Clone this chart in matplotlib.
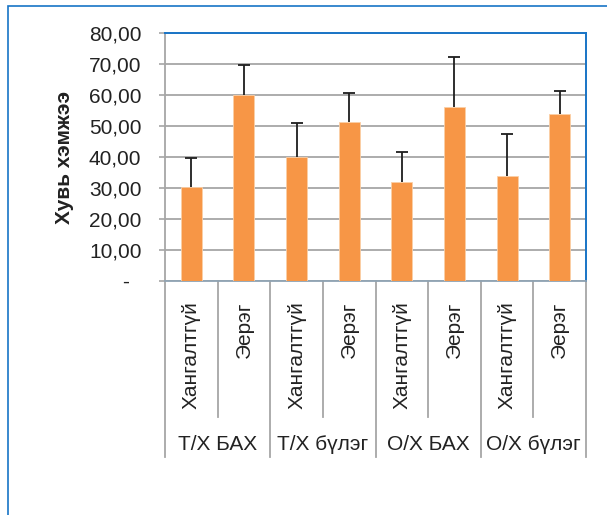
import matplotlib
matplotlib.use("Agg")
import matplotlib.pyplot as plt
from matplotlib.patches import Rectangle
import numpy as np

# Data
groups = ["Т/Х БАХ", "Т/Х бүлэг", "О/Х БАХ", "О/Х бүлэг"]
subcats = ["Хангалтгүй", "Эерэг"]
means = [30.2, 59.9, 40.1, 51.3, 32.0, 56.2, 34.0, 53.9]
errors = [9.6, 9.7, 11.0, 9.4, 9.5, 15.9, 13.4, 7.3]
yticks = [0, 10, 20, 30, 40, 50, 60, 70, 80]
ytick_labels = ["-  ", "10,00", "20,00", "30,00", "40,00", "50,00", "60,00", "70,00", "80,00"]
ylabel = "Хувь хэмжээ"

W, H = 607, 515
DPI = 100
plt.rcParams["font.family"] = ["Liberation Sans", "DejaVu Sans"]

fig = plt.figure(figsize=(W / DPI, H / DPI), dpi=DPI)
fig.patch.set_facecolor("white")

# outer chart border
fig.patches.append(Rectangle((8 / W, -0.2), 1.2, (H - 5.5) / H + 0.2,
                             transform=fig.transFigure, fill=False,
                             edgecolor="#1874C6", linewidth=1.2))

left, right, top, bottom = 165, 586, 33, 281
ax = fig.add_axes([left / W, (H - bottom) / H, (right - left) / W, (bottom - top) / H])

blue = "#1874C6"
grid_gray = "#A6A6A6"
text_col = "#222222"

x = np.arange(len(means))
m = np.array(means)
e = np.array(errors)
ax.bar(x, m, width=0.4, color="#F79646", edgecolor="#FBCFA6", linewidth=0.6, zorder=3)

# upper error bars only (stem + cap)
cap_half = 0.115
ax.vlines(x, m, m + e, color="#1E1E1E", linewidth=1.3, zorder=4)
ax.hlines(m + e, x - cap_half, x + cap_half, color="#1E1E1E", linewidth=1.3, zorder=4)

ax.set_xlim(-0.5, len(means) - 0.5)
ax.set_ylim(0, 80)
ax.set_yticks(yticks)
ax.set_yticklabels(ytick_labels, fontsize=15, color=text_col)
ax.tick_params(axis="y", length=4, width=1.2, color=grid_gray, pad=13)
ax.set_xticks([])
ax.yaxis.grid(True, color=grid_gray, linewidth=1.3, zorder=0)
ax.set_axisbelow(True)

ax.spines["left"].set_color(grid_gray)
ax.spines["left"].set_linewidth(1.3)
ax.spines["bottom"].set_color("#8FA3B3")
ax.spines["bottom"].set_linewidth(1.3)
for s in ("top", "right"):
    ax.spines[s].set_color(blue)
    ax.spines[s].set_linewidth(1.4)

ax.set_ylabel(ylabel, fontsize=15, fontweight="bold", color=text_col)
ax.yaxis.set_label_coords((74 - left) / (right - left), 0.5)

# two-level category axis
ah = bottom - top
trans = ax.get_xaxis_transform()
inner_end = -(417 - bottom) / ah
outer_end = -(457 - bottom) / ah
for b in np.arange(-0.5, len(means), 1.0):
    k = int(round(b + 0.5))
    yend = outer_end if k % 2 == 0 else inner_end
    ax.plot([b, b], [0, yend], transform=trans, color=grid_gray,
            linewidth=1.3, clip_on=False, zorder=1)

label_top = -(301 - bottom) / ah
for i in range(len(means)):
    ax.text(i, label_top, subcats[i % 2], transform=trans, rotation=90,
            ha="center", va="top", fontsize=15, color=text_col)

group_y = -(445 - bottom) / ah
for g, name in enumerate(groups):
    ax.text(2 * g + 0.5, group_y, name, transform=trans, ha="center",
            va="center", fontsize=15, color=text_col)

fig.savefig("out.png", dpi=DPI)
